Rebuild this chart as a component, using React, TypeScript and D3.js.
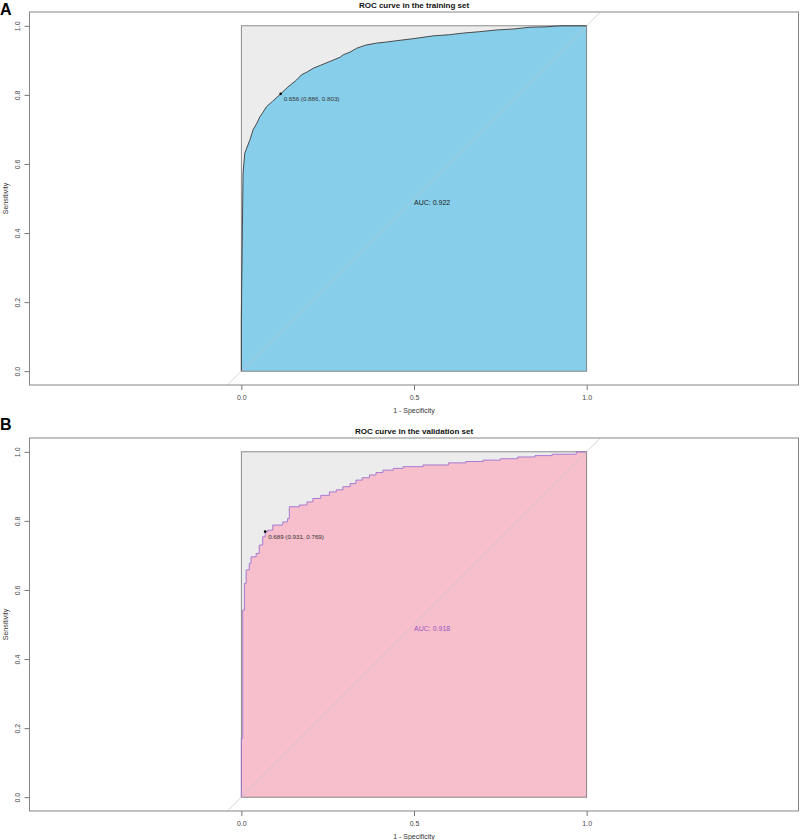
import React, { useEffect, useRef } from 'react';
import * as d3 from 'd3';

// ROC points: 1 - specificity and sensitivity
const trainFpr = [0, 0, 0.005, 0.010, 0.018, 0.025, 0.034, 0.044, 0.054, 0.063, 0.073, 0.090, 0.114, 0.135, 0.160, 0.174, 0.190, 0.208, 0.230, 0.257, 0.286, 0.295, 0.315, 0.334, 0.360, 0.392, 0.420, 0.450, 0.500, 0.556, 0.600, 0.643, 0.690, 0.740, 0.790, 0.836, 0.880, 0.923, 0.960, 1];
const trainSens = [0, 0.150, 0.573, 0.631, 0.652, 0.670, 0.699, 0.716, 0.737, 0.750, 0.766, 0.781, 0.803, 0.823, 0.843, 0.858, 0.866, 0.877, 0.886, 0.897, 0.909, 0.916, 0.924, 0.935, 0.944, 0.950, 0.953, 0.957, 0.963, 0.971, 0.974, 0.979, 0.983, 0.988, 0.991, 0.996, 0.997, 1.0, 1.0, 1];

const validFpr = [0, 0, 0.004, 0.009, 0.014, 0.023, 0.028, 0.043, 0.052, 0.062, 0.069, 0.076, 0.091, 0.120, 0.134, 0.139, 0.168, 0.190, 0.207, 0.230, 0.255, 0.275, 0.294, 0.315, 0.332, 0.350, 0.371, 0.390, 0.410, 0.440, 0.468, 0.526, 0.600, 0.650, 0.700, 0.750, 0.800, 0.850, 0.900, 0.970, 1];
const validSens = [0, 0.170, 0.542, 0.619, 0.658, 0.677, 0.696, 0.706, 0.730, 0.754, 0.769, 0.773, 0.788, 0.797, 0.807, 0.841, 0.846, 0.855, 0.865, 0.874, 0.884, 0.890, 0.899, 0.908, 0.918, 0.925, 0.933, 0.940, 0.947, 0.952, 0.957, 0.962, 0.968, 0.972, 0.976, 0.980, 0.985, 0.989, 0.993, 1.0, 1];

const xTicks = [0, 0.5, 1];
const yTicks = [0, 0.2, 0.4, 0.6, 0.8, 1];
const titles = ['ROC curve in the training set', 'ROC curve in the validation set'];
const panelLabels = ['A', 'B'];
const aucValues = [0.922, 0.918];
const thresholds = [0.656, 0.689];
const thresSpec = [0.886, 0.931];
const thresSens = [0.803, 0.769];

const W = 800, H = 840;
const font = '"Liberation Sans", Arial, sans-serif';
const frame = { left: 29.5, width: 769, height: 373 };

const panels = [
  { top: 12, labelY: 15, fpr: trainFpr, sens: trainSens, fill: '#87CEEB', line: '#3a3a3a', aucColor: '#222222', step: false },
  { top: 438, labelY: 430, fpr: validFpr, sens: validSens, fill: '#F7BFCB', line: '#9F72D2', aucColor: '#9A55C4', step: true },
];

function drawPanel(svg: any, i: number) {
  const p = panels[i];
  const unit = frame.height / 1.08;
  const half = frame.width / unit / 2;
  const x = d3.scaleLinear().domain([0.5 - half, 0.5 + half]).range([frame.left, frame.left + frame.width]);
  const y = d3.scaleLinear().domain([-0.04, 1.04]).range([p.top + frame.height, p.top]);
  const g = svg.append('g').attr('font-family', font);

  // grey max-AUC box
  g.append('rect')
    .attr('x', x(0)).attr('y', y(1))
    .attr('width', x(1) - x(0)).attr('height', y(0) - y(1))
    .attr('fill', '#ECECEC');

  const pts = p.fpr.map((f, k) => [f, p.sens[k]]);
  const curveType = p.step ? d3.curveStepAfter : d3.curveLinear;
  const area = d3.area<number[]>()
    .x(d => x(d[0])).y0(y(0)).y1(d => y(d[1]))
    .curve(curveType);
  g.append('path').attr('d', area(pts)).attr('fill', p.fill);

  g.append('rect')
    .attr('x', x(0)).attr('y', y(1))
    .attr('width', x(1) - x(0)).attr('height', y(0) - y(1))
    .attr('fill', 'none').attr('stroke', '#707070').attr('stroke-width', 0.8);

  // identity line
  g.append('line')
    .attr('x1', x(-0.04)).attr('y1', y(-0.04))
    .attr('x2', x(1.04)).attr('y2', y(1.04))
    .attr('stroke', '#C4C4C4').attr('stroke-width', 0.7);

  const line = d3.line<number[]>().x(d => x(d[0])).y(d => y(d[1])).curve(curveType);
  g.append('path').attr('d', line(pts))
    .attr('fill', 'none').attr('stroke', p.line).attr('stroke-width', 0.9);

  // best threshold
  const tx = x(1 - thresSpec[i]), ty = y(thresSens[i]);
  g.append('circle').attr('cx', tx).attr('cy', ty).attr('r', 1.3).attr('fill', '#000');
  g.append('text')
    .attr('x', tx + 3).attr('y', ty + 7)
    .attr('font-size', 6.2).attr('fill', '#333')
    .text(`${thresholds[i].toFixed(3)} (${thresSpec[i].toFixed(3)}, ${thresSens[i].toFixed(3)})`);

  g.append('text')
    .attr('x', x(0.5)).attr('y', y(0.5) + 6)
    .attr('font-size', 7).attr('fill', p.aucColor)
    .text(`AUC: ${aucValues[i].toFixed(3)}`);

  // frame
  g.append('rect')
    .attr('x', frame.left).attr('y', p.top)
    .attr('width', frame.width).attr('height', frame.height)
    .attr('fill', 'none').attr('stroke', '#858585').attr('stroke-width', 1);

  const yAxis = g.append('g')
    .attr('transform', `translate(${frame.left},0)`)
    .call(d3.axisLeft(y).tickValues(yTicks).tickSize(5).tickFormat(d3.format('.1f')));
  yAxis.select('.domain').remove();
  yAxis.selectAll('.tick line').attr('stroke', '#777');
  yAxis.selectAll('.tick text')
    .attr('x', null).attr('dy', null)
    .attr('transform', 'translate(-9.5,0) rotate(-90)')
    .attr('text-anchor', 'middle')
    .attr('font-size', 7).attr('font-family', font).attr('fill', '#444');

  const xAxis = g.append('g')
    .attr('transform', `translate(0,${p.top + frame.height})`)
    .call(d3.axisBottom(x).tickValues(xTicks).tickSize(5).tickPadding(5).tickFormat(d3.format('.1f')));
  xAxis.select('.domain').remove();
  xAxis.selectAll('.tick line').attr('stroke', '#777');
  xAxis.selectAll('.tick text').attr('font-size', 7).attr('font-family', font).attr('fill', '#444');

  g.append('text')
    .attr('x', x(0.5)).attr('y', p.top + frame.height + 27.5)
    .attr('text-anchor', 'middle').attr('font-size', 7).attr('fill', '#333')
    .text('1 - Specificity');

  g.append('text')
    .attr('transform', `translate(7.5,${y(0.5)}) rotate(-90)`)
    .attr('text-anchor', 'middle').attr('font-size', 7).attr('fill', '#333')
    .text('Sensitivity');

  g.append('text')
    .attr('x', frame.left + frame.width / 2).attr('y', p.top - 4.5)
    .attr('text-anchor', 'middle').attr('font-size', 8).attr('font-weight', 'bold').attr('fill', '#111')
    .text(titles[i]);

  g.append('text')
    .attr('x', 0).attr('y', p.labelY)
    .attr('font-size', 16).attr('font-weight', 'bold').attr('fill', '#000')
    .text(panelLabels[i]);
}

export default function App() {
  const ref = useRef<SVGSVGElement>(null);

  useEffect(() => {
    const svg = d3.select(ref.current);
    svg.selectAll('*').remove();
    panels.forEach((_, i) => drawPanel(svg, i));
  }, []);

  return (
    <svg ref={ref} width={W} height={H}
      style={{ position: 'absolute', left: 0, top: 0, background: '#fff' }} />
  );
}
